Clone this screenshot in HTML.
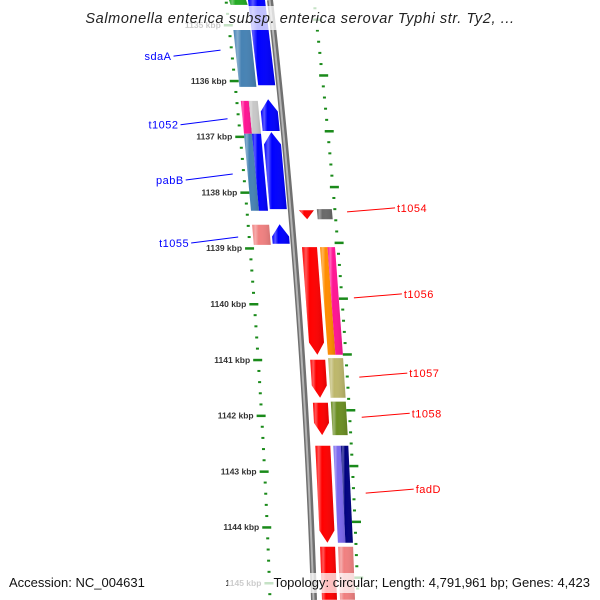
<!DOCTYPE html>
<html><head><meta charset="utf-8"><style>
html,body{margin:0;padding:0;background:#fff;overflow:hidden;width:600px;height:600px}
svg{display:block;overflow:hidden}
text{font-family:"Liberation Sans",sans-serif}
</style></head><body>
<svg id="map" width="600" height="600" viewBox="0 0 600 600" xmlns="http://www.w3.org/2000/svg">
<defs>
<linearGradient id="shine" x1="0" x2="1" y1="0" y2="0">
<stop offset="0" stop-color="#fff" stop-opacity="0"/>
<stop offset="0.18" stop-color="#fff" stop-opacity="0.35"/>
<stop offset="0.35" stop-color="#fff" stop-opacity="0"/>
<stop offset="1" stop-color="#000" stop-opacity="0.12"/>
</linearGradient>
<clipPath id="frame"><rect x="0" y="0" width="600" height="600"/></clipPath>
</defs>
<g clip-path="url(#frame)">
<g id="backbone-g"></g>
<g id="ticks"></g>
<g id="features"></g>
<g id="labels"></g>
</g>
<rect x="92" y="6" width="416" height="24" fill="#fff" fill-opacity="0.75"/>
<text x="300" y="23" text-anchor="middle" font-size="14.5" font-style="italic" fill="#222" letter-spacing="0.6">Salmonella enterica subsp. enterica serovar Typhi str. Ty2, ...</text>
<text x="9" y="587" font-size="13" fill="#111">Accession: NC_004631</text>
<rect x="228" y="573" width="364" height="20" fill="#fff" fill-opacity="0.75"/>
<text x="590" y="587" text-anchor="end" font-size="13" fill="#111">Topology: circular; Length: 4,791,961 bp; Genes: 4,423</text>
</svg>
<script>
// ---- data ----
const featStart = [1134.40,1134.40,1135.09,1136.36,1136.36,1136.33,1136.95,1136.95,1136.92,1138.58,1138.57,
                   1138.32,1138.30,1138.98,1138.98,1138.98,1141.00,1140.97,1141.77,1141.75,1142.54,1142.54,1142.54,1144.35,1144.35];
const featEnd   = [1134.64,1136.08,1136.11,1136.95,1136.95,1136.90,1138.33,1138.33,1138.30,1138.94,1138.92,
                   1138.48,1138.48,1140.91,1140.91,1140.91,1141.68,1141.68,1142.35,1142.35,1144.28,1144.28,1144.28,1145.30,1145.30];
const featLane  = ['Lo','Li','Lo','Loa','Lob','Li','Loa','Lob','Li','Lo','Li',
                   'Ri','Ro','Ri','Roa','Rob','Ri','Ro','Ri','Ro','Ri','Roa','Rob','Ri','Ro'];
const featColor = ['#22aa22','#0000ff','#4682b4','#ff1493','#c8c8c8','#0000ff','#4682b4','#0000ff','#0000ff','#f08080','#0000ff',
                   '#ff0000','#696969','#ff0000','#ff8c00','#ff1493','#ff0000','#bdb76b','#ff0000','#6b8e23','#ff0000','#7b68ee','#000080','#ff0000','#f08080'];
const featArrow = [0,0,0,0,0,1,0,0,1,0,1, 1,0,1,0,0,1,0,1,0,1,0,0,0,0];
const labelNames = ['sdaA','t1052','pabB','t1055','t1054','t1056','t1057','t1058','fadD'];
const labelKbp   = [1135.45,1136.68,1137.67,1138.80,1138.35,1139.89,1141.31,1142.03,1143.39];
const labelSide  = ['L','L','L','L','R','R','R','R','R'];
const tickMajors = [1135,1136,1137,1138,1139,1140,1141,1142,1143,1144,1145];

// ---- geometry ----
const NS='http://www.w3.org/2000/svg';
function yOf(k){return 25+(k-1135)*55.8;}
function bb(y){return 270+0.1136*y-6.71e-5*y*y;}
function pt(k,dx){const y=yOf(k);return [bb(y)+dx,y];}
const lanes={Lo:[-40,-23],Loa:[-40,-32],Lob:[-32,-23],Li:[-21,-4],Ri:[8,23],Ro:[26,41],Roa:[26,33.5],Rob:[33.5,41]};
function mk(tag,attrs,parent){const e=document.createElementNS(NS,tag);for(const a in attrs)e.setAttribute(a,attrs[a]);parent.appendChild(e);return e;}

// backbone
const bg=document.getElementById('backbone-g');
let bpts=[];for(let y=0;y<=600;y+=5)bpts.push((bb(y))+','+y);
const b1=mk('polyline',{points:bpts.join(' '),fill:'none',stroke:'#707070','stroke-width':6},bg);


const b2=mk('polyline',{points:bpts.map(p=>{const[a,b]=p.split(',');return (+a-0.5)+','+b;}).join(' '),fill:'none',stroke:'#b4b4b4','stroke-width':2},bg);



// ticks
const tg=document.getElementById('ticks');
for(let i=-2;i<=51;i++){
  const k=1135+i*0.2;const major=(i%5===0);
  let [x,y]=pt(k,-44);
  if(y>=1&&y<=598){
    const d=mk('rect',{x:major?x-5:x-1.5,y:y-1,width:major?9:3,height:major?2.5:2,fill:'#1a8a1a'},tg);
    
    
  }
  [x,y]=pt(k-0.1,44);
  if(y>=1&&y<=598){
    const r=mk('rect',{x:major?x-3:x-1.5,y:y-1,width:major?9:3,height:major?2.5:2,fill:'#1a8a1a'},tg);
    
    
  }
}
tickMajors.forEach(k=>{
  const [x,y]=pt(k,-52);
  const t=mk('text',{x:x,y:y+3,'text-anchor':'end','font-size':'8.5','font-weight':'bold',fill:'#333'},tg);
  t.textContent=k+' kbp';
  
  
});

// features
const fg=document.getElementById('features');
featStart.forEach((s,i)=>{
  const e=featEnd[i];const [d0,d1]=lanes[featLane[i]];const right=featLane[i][0]==='R';
  let P;const ah=0.22;
  if(featArrow[i]&&right){
    const m=(d0+d1)/2;const sh=Math.max(s,e-ah);
    P=[pt(s,d0),pt(s,d1),pt(sh,d1),pt(e,m),pt(sh,d0)];
  }else if(featArrow[i]){
    const m=(d0+d1)/2;const sh=Math.min(e,s+ah);
    P=[pt(s,m),pt(sh,d1),pt(e,d1),pt(e,d0),pt(sh,d0)];
  }else{
    P=[pt(s,d0),pt(s,d1),pt(e,d1),pt(e,d0)];
  }
  const ps=P.map(p=>p[0].toFixed(1)+','+Math.max(0,Math.min(600,p[1])).toFixed(1)).join(' ');
  const g=mk('g',{},fg);
  
  
  mk('polygon',{points:ps,fill:featColor[i]},g);
  mk('polygon',{points:ps,fill:'url(#shine)'},g);
});

// labels
const lg=document.getElementById('labels');
labelNames.forEach((n,i)=>{
  const y=yOf(labelKbp[i]);const L=labelSide[i]==='L';
  const col=L?'#0000ff':'#ff0000';
  let x1,y1,x2,y2;
  if(L){x1=bb(y)-55;y1=y;x2=x1-47;y2=y+6;}else{x1=bb(y)+56;y1=y;x2=x1+48;y2=y-4;}
  const ln=mk('line',{x1:x1,y1:y1,x2:x2,y2:y2,stroke:col,'stroke-width':1},lg);
  
  
  const t=mk('text',{x:L?x2-2:x2+2,y:y2+4,'text-anchor':L?'end':'start','font-size':'11',fill:col,'letter-spacing':'0.5'},lg);
  t.textContent=n;
  
  
});
</script>
</body></html>
